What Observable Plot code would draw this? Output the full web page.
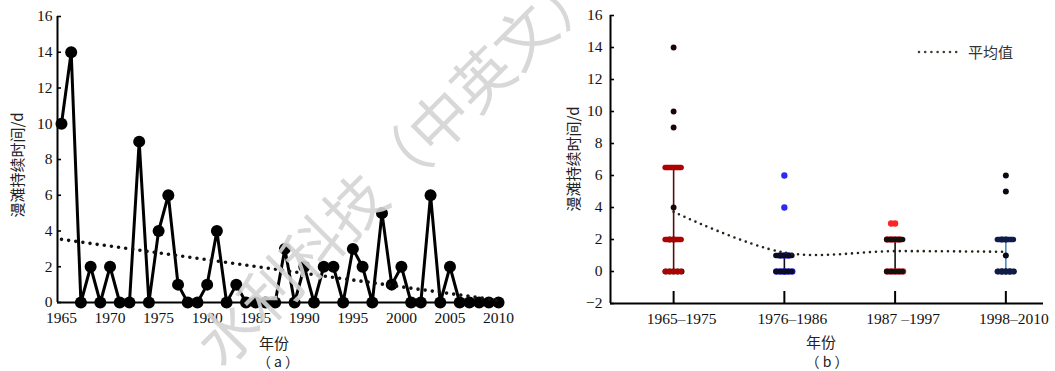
<!DOCTYPE html>
<html><head><meta charset="utf-8">
<script src="https://cdn.jsdelivr.net/npm/d3@7"></script>
<script src="https://cdn.jsdelivr.net/npm/@observablehq/plot@0.6"></script>
<style>
html,body{margin:0;padding:0;background:#fff;}
body{width:1055px;height:371px;overflow:hidden;position:relative;font-family:"Liberation Serif",serif;}
#a{position:absolute;left:0;top:0;}
#b{position:absolute;left:530px;top:0;}
#a svg text,#b svg text{font-family:"Liberation Serif",serif !important;font-size:15.5px !important;fill:#111;}
.t{position:absolute;font-family:"Noto Sans CJK SC",sans-serif;font-size:14px;color:#222;white-space:nowrap;transform:translate(-50%,-50%);line-height:1;}
.rot{transform:translate(-50%,-50%) rotate(-90deg);font-size:15px;}
#legend{position:absolute;left:916px;top:41px;display:flex;align-items:center;font-family:"Noto Sans CJK SC",sans-serif;font-size:15px;color:#333;}
#wm{position:absolute;left:204px;top:322px;font-family:"Noto Sans CJK SC",sans-serif;font-size:60px;line-height:60px;color:#d4d4d4;opacity:0.9;white-space:nowrap;transform-origin:0 50%;transform:rotate(-45deg);pointer-events:none;}
</style></head>
<body>
<div id="a"></div><div id="b"></div>
<div class="t rot" id="ya" style="left:16px;top:165px"></div>
<div class="t rot" id="yb" style="left:572px;top:159px"></div>
<div class="t" id="xa" style="left:274px;top:342px;font-size:15px"></div>
<div class="t" id="ca" style="left:278px;top:361px"></div>
<div class="t" id="xb" style="left:821px;top:341px;font-size:15px"></div>
<div class="t" id="cb" style="left:827px;top:361px"></div>
<div id="legend"><svg width="50" height="10"><line x1="3" y1="5" x2="46" y2="5" stroke="#3b4430" stroke-width="2.6" stroke-linecap="round" stroke-dasharray="0 6.2"/></svg><span id="lg" style="margin-left:2px"></span></div>
<div id="wm"></div>
<script>
// ---- data ----
const years = [1965,1966,1967,1968,1969,1970,1971,1972,1973,1974,1975,
               1976,1977,1978,1979,1980,1981,1982,1983,1984,1985,1986,
               1987,1988,1989,1990,1991,1992,1993,1994,1995,1996,1997,
               1998,1999,2000,2001,2002,2003,2004,2005,2006,2007,2008,2009,2010];
const days  = [10,14,0,2,0,2,0,0,9,0,4,
               6,1,0,0,1,4,0,1,0,0,0,
               0,3,0,2,0,2,2,0,3,2,0,
               5,1,2,0,0,6,0,2,0,0,0,0,0];
const periods = ["1965–1975","1976–1986","1987 –1997","1998–2010"];
const periodStart = [1965,1976,1987,1998];
const xTicksA = [1965,1970,1975,1980,1985,1990,1995,2000,2005,2010];
const yTicksA = [0,2,4,6,8,10,12,14,16];
const yTicksB = [-2,0,2,4,6,8,10,12,14,16];
const yTitle = "漫滩持续时间/d";
const xTitle = "年份";
const capA = "（ a ）", capB = "（ b ）";
const meanLabel = "平均值";
const watermark = "水利科技（中英文）";

// ---- styles (per period) ----
const pointColor = ["#1a0606","#2b2bf5","#ff2424","#0a0a16"];
const pointR = [3.9,4.6,4.6,4.1];
const capColor = ["#b00000","#0c0c20","#111111","#0d1c4c"];
const barColor = ["#5a0c0c","#111111","#111111","#4a8cc4"];

document.getElementById("ya").textContent = yTitle;
document.getElementById("yb").textContent = yTitle;
document.getElementById("xa").textContent = xTitle;
document.getElementById("xb").textContent = xTitle;
document.getElementById("ca").textContent = capA;
document.getElementById("cb").textContent = capB;
document.getElementById("lg").textContent = meanLabel;
document.getElementById("wm").textContent = watermark;

const rows = years.map((y, i) => {
  let g = 0;
  periodStart.forEach((s, k) => { if (y >= s) g = k; });
  return {year: y, days: days[i], g};
});

// ---- chart (a) ----
const xDomA = [1964.59, 2010.51];
const chartA = Plot.plot({
  width: 530, height: 330,
  marginLeft: 57, marginRight: 27, marginTop: 16, marginBottom: 28,
  style: {fontFamily: "'Liberation Serif', serif", fontSize: "15px", color: "#000", background: "transparent", overflow: "visible"},
  x: {domain: xDomA, label: null},
  y: {domain: [0, 16], label: null},
  marks: [
    Plot.ruleY([0], {stroke: "#000", strokeWidth: 2}),
    Plot.ruleX([xDomA[0]], {stroke: "#000", strokeWidth: 2}),
    Plot.axisX(xTicksA, {tickSize: 0, tickPadding: 9, tickFormat: "d", label: null}),
    Plot.axisY(yTicksA, {tickSize: -4, tickPadding: 9, strokeWidth: 1.6, label: null}),
    Plot.line(rows, {x: "year", y: "days", stroke: "#000", strokeWidth: 3, strokeLinejoin: "round"}),
    Plot.dot(rows, {x: "year", y: "days", r: 6, fill: "#000", stroke: "none"}),
    Plot.linearRegressionY(rows, {x: "year", y: "days", ci: 0, stroke: "#111", strokeWidth: 3.6, strokeDasharray: "0 7.2", strokeLinecap: "round"})
  ]
});
document.getElementById("a").append(chartA);

// ---- chart (b) ----
const stats = periods.map((p, g) => {
  const v = rows.filter(r => r.g === g).map(r => r.days).sort(d3.ascending);
  return {g, pos: g + 1, q1: d3.quantileSorted(v, 0.25), med: d3.quantileSorted(v, 0.5), q3: d3.quantileSorted(v, 0.75), mean: d3.mean(v)};
});
const caps = stats.flatMap(s => Array.from(new Set([s.q1, s.med, s.q3])).map(v => ({g: s.g, pos: s.pos, v})));
// small horizontal spread for repeated values (layout only)
const spread = [0, -1, 1, -2, 2];
const seen = new Map();
const pts = rows.map(r => {
  const key = r.g + "_" + r.days;
  const k = seen.get(key) || 0; seen.set(key, k + 1);
  return {...r, pos: r.g + 1, xo: r.g + 1 + spread[k % 5] * 0.036};
});
const xDomB = [0.43, 4.34];
const chartB = Plot.plot({
  width: 525, height: 330,
  marginLeft: 80, marginRight: 12, marginTop: 15, marginBottom: 27,
  style: {fontFamily: "'Liberation Serif', serif", fontSize: "15px", color: "#000", background: "transparent", overflow: "visible"},
  x: {domain: xDomB, label: null},
  y: {domain: [-2, 16], label: null},
  marks: [
    Plot.ruleY([-2], {stroke: "#000", strokeWidth: 2}),
    Plot.ruleX([xDomB[0]], {stroke: "#000", strokeWidth: 2}),
    Plot.axisX([1, 2, 3, 4], {tickSize: -12, tickFormat: () => "", strokeWidth: 2, label: null}),
    Plot.axisX([1, 2, 3, 4], {tickSize: 0, tickPadding: 9, dx: 8, tickFormat: i => periods[i - 1], label: null}),
    Plot.axisY(yTicksB, {tickSize: -4, tickPadding: 12, strokeWidth: 1.6, label: null, tickFormat: d => d < 0 ? "−" + (-d) : String(d)}),
    Plot.ruleX(stats, {x: "pos", y1: "q1", y2: "q3", stroke: d => barColor[d.g], strokeWidth: 1.6}),
    Plot.dot(pts, {x: "xo", y: "days", r: d => pointR[d.g], fill: d => pointColor[d.g], stroke: "none"}),
    Plot.ruleY(caps, {y: "v", x1: "pos", x2: "pos", insetLeft: -8, insetRight: -8, stroke: d => capColor[d.g], strokeWidth: 5.5, strokeLinecap: "round"}),
    Plot.line(stats, {x: "pos", y: "mean", curve: "catmull-rom", stroke: "#222618", strokeWidth: 2.6, strokeDasharray: "0 6", strokeLinecap: "round"})
  ]
});
document.getElementById("b").append(chartB);
</script>
</body></html>
